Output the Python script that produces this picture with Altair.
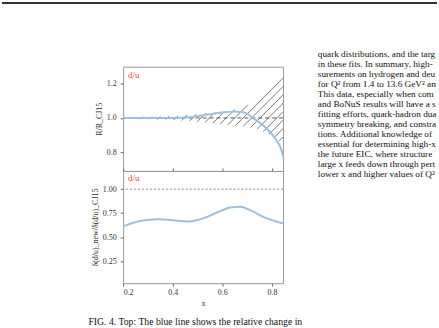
import altair as alt
import numpy as np
import pandas as pd

# ---- values ---------------------------------------------------------------
x_ticks = [0.2, 0.4, 0.6, 0.8]
x_domain = [0.2, 0.845]

# top panel: ratio curve and its uncertainty band
top_x = [0.2, 0.3, 0.4, 0.45, 0.5, 0.55, 0.6, 0.65, 0.68, 0.7, 0.72, 0.76, 0.8, 0.82, 0.835, 0.845]
top_y = [1.0, 1.0, 1.0, 1.003, 1.01, 1.022, 1.032, 1.037, 1.034, 1.026, 1.003, 0.962, 0.905, 0.865, 0.826, 0.775]

band_x = [0.2, 0.3, 0.4, 0.45, 0.5, 0.55, 0.6, 0.65, 0.7, 0.75, 0.8, 0.845]
band_hi = [1.006, 1.008, 1.012, 1.017, 1.023, 1.03, 1.038, 1.05, 1.075, 1.11, 1.165, 1.235]
band_lo = [0.994, 0.992, 0.988, 0.983, 0.977, 0.97, 0.962, 0.955, 0.948, 0.93, 0.895, 0.85]
ref_level = [1.0]
top_y_ticks = [0.8, 1.0, 1.2]
top_y_domain = [0.69, 1.30]

# bottom panel: ratio of uncertainties
bot_x = [0.2, 0.272, 0.339, 0.399, 0.459, 0.512, 0.579, 0.632, 0.672, 0.712, 0.765, 0.845]
bot_y = [0.612, 0.67, 0.687, 0.677, 0.663, 0.687, 0.757, 0.809, 0.816, 0.781, 0.711, 0.642]
bot_y_ticks = [0.25, 0.5, 0.75, 1.0]
bot_y_domain = [0.02, 1.19]

panel_label = "d/u"
top_title = "R/R_CJ15"
bot_title = "δ(d/u)_new/δ(d/u)_CJ15"

para_lines = [
    "quark distributions, and the target mass corrections used",
    "in these fits. In summary, high-precision cross section mea-",
    "surements on hydrogen and deuterium targets are reported",
    "for Q² from 1.4 to 13.6 GeV² and x up to 0.95.",
    "This data, especially when combined with the MARATHON",
    "and BoNuS results will have a significant impact on global",
    "fitting efforts, quark-hadron duality studies, light antiquark",
    "symmetry breaking, and constraints on nuclear modifica-",
    "tions.  Additional knowledge of d/u at large x is also",
    "essential for determining high-x PDFs at the LHC and",
    "the future EIC, where structure functions at",
    "large x feeds down through perturbative evolution to",
    "lower x and higher values of Q².",
]
caption = "FIG. 4.  Top: The blue line shows the relative change in"

# ---- styling --------------------------------------------------------------
SERIF = "Liberation Serif"
BLUE = "#9cc1e0"
RED = "#ee3b3b"
INK = "#333333"

# hatch lines (about 45 degrees on screen) clipped to the uncertainty band
slope = 1.45
step = 0.034
xs = np.linspace(band_x[0], band_x[-1], 1200)
lo = np.interp(xs, band_x, band_lo)
hi = np.interp(xs, band_x, band_hi)
hatch_rows = []
for c in np.arange(band_x[0] - 0.4, band_x[-1] + 0.4, step):
    yl = 1.0 + slope * (xs - c)
    idx = np.where((yl >= lo) & (yl <= hi))[0]
    if idx.size:
        hatch_rows.append({"x": xs[idx[0]], "y": yl[idx[0]],
                           "x2": xs[idx[-1]], "y2": yl[idx[-1]]})
hatch_df = pd.DataFrame(hatch_rows)

one = pd.DataFrame({"k": [0]})

x_scale = alt.Scale(domain=x_domain, nice=False, zero=False)
x_top = alt.X("x:Q", scale=x_scale,
              axis=alt.Axis(values=x_ticks, labels=False, title=None, domain=False,
                            grid=False, tickSize=3, offset=-3, tickColor="#666"))
y_top = alt.Y("y:Q", scale=alt.Scale(domain=top_y_domain, nice=False, zero=False),
              axis=alt.Axis(values=top_y_ticks, format=".1f", title=top_title,
                            domain=False, grid=False, tickSize=3, tickColor="#666",
                            labelPadding=4, titlePadding=3))

hatch = alt.Chart(hatch_df).mark_rule(color="#555", strokeWidth=0.8).encode(
    x=x_top, x2="x2:Q", y=y_top, y2="y2:Q")
ref_top = alt.Chart(pd.DataFrame({"y": ref_level})).mark_rule(
    color="#555", strokeWidth=1, strokeDash=[4, 3]).encode(y=y_top)
line_top = alt.Chart(pd.DataFrame({"x": top_x, "y": top_y})).mark_line(
    color=BLUE, strokeWidth=2, interpolate="monotone").encode(x=x_top, y=y_top)
label_top = alt.Chart(one).mark_text(
    text=panel_label, color=RED, font=SERIF, fontSize=9, align="left",
    baseline="middle").encode(x=alt.value(5), y=alt.value(8))
page_rule = alt.Chart(one).mark_rule(color="#333", strokeWidth=2).encode(
    x=alt.value(-122), x2=alt.value(316), y=alt.value(-64))
para = alt.Chart(one).mark_text(
    text=para_lines, align="left", baseline="top", font=SERIF, fontSize=9.3,
    lineHeight=10.05, limit=120, ellipsis="\u200b", color="#111").encode(
    x=alt.value(196), y=alt.value(-17))

top = alt.layer(hatch, ref_top, line_top, label_top, page_rule, para).properties(
    width=161, height=105)

x_bot = alt.X("x:Q", scale=x_scale,
              axis=alt.Axis(values=x_ticks, format=".1f", title="x", domain=False,
                            grid=False, tickSize=3, tickColor="#666",
                            labelPadding=2, titlePadding=3))
y_bot = alt.Y("y:Q", scale=alt.Scale(domain=bot_y_domain, nice=False, zero=False),
              axis=alt.Axis(values=bot_y_ticks, format=".2f", title=bot_title,
                            domain=False, grid=False, tickSize=3, tickColor="#666",
                            labelPadding=4, titlePadding=3))

ref_bot = alt.Chart(pd.DataFrame({"y": ref_level})).mark_rule(
    color="#888", strokeWidth=1, strokeDash=[2, 2]).encode(y=y_bot)
line_bot = alt.Chart(pd.DataFrame({"x": bot_x, "y": bot_y})).mark_line(
    color=BLUE, strokeWidth=2, interpolate="monotone").encode(x=x_bot, y=y_bot)
label_bot = alt.Chart(one).mark_text(
    text=panel_label, color=RED, font=SERIF, fontSize=9, align="left",
    baseline="middle").encode(x=alt.value(5), y=alt.value(7))
cap = alt.Chart(one).mark_text(
    text=caption, align="left", baseline="middle", font=SERIF, fontSize=9.8,
    color="#111").encode(x=alt.value(-35), y=alt.value(152))

bottom = alt.layer(ref_bot, line_bot, label_bot, cap).properties(width=161, height=113)

chart = alt.vconcat(top, bottom, spacing=0, bounds="flush").properties(
    padding=0
).configure_view(
    stroke="#999", strokeWidth=1
).configure_axis(
    labelFont=SERIF, titleFont=SERIF, labelFontSize=8, titleFontSize=8,
    labelColor=INK, titleColor=INK, titleFontWeight="normal"
)

chart.save("out.html", embed_options={"renderer": "svg", "actions": False})
